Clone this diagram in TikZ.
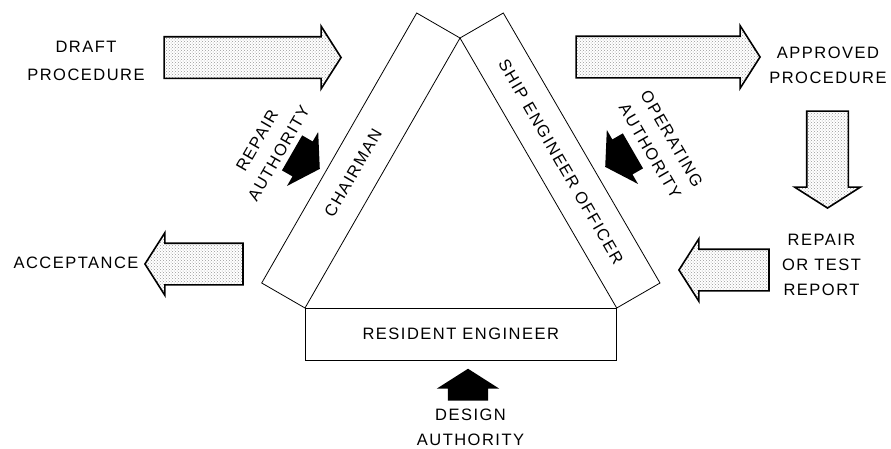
\documentclass[tikz,border=0pt]{standalone}
\usepackage{fontspec}
\setmainfont{Liberation Sans}[LetterSpace=9]
\usetikzlibrary{shapes.arrows,patterns}

\begin{document}
\begin{tikzpicture}[x=1pt, y=-1pt,
		lbl/.style={align=center, font=\fontsize{16.5}{25}\selectfont},
		slab/.style={draw, line width=0.8pt},
		grayarrow/.style={draw, single arrow, anchor=tip, line width=1.6pt, pattern=crosshatch dots, pattern color=gray!80, single arrow head extend=10.5pt, single arrow tip angle=115, inner xsep=0pt, inner ysep=20pt},
		blackarrow/.style={single arrow, anchor=tip, fill=black, single arrow head extend=11pt, single arrow tip angle=115, minimum height=32pt, inner xsep=0pt, inner ysep=20pt}]
				\useasboundingbox (0,0) rectangle (891,448);
				\draw[slab] (460,38) -- (416.7,13) -- (261.7,283) -- (305,308) -- cycle;
				\draw[slab] (460,38) -- (503.3,13) -- (660,283) -- (616.7,308) -- cycle;
				\node[slab, lbl, minimum width=311.7pt, minimum height=52pt] (RE)at(460.8, 334) {RESIDENT ENGINEER};
				\node[lbl, rotate=60] (CH)at(353, 173) {CHAIRMAN};
				\node[lbl, rotate=-60] (SEO)at(561, 162) {SHIP ENGINEER OFFICER};
				\node[lbl] (DP)at(86, 61) {DRAFT\\[3pt]PROCEDURE};
				\node[lbl] (AP)at(828, 65) {APPROVED\\PROCEDURE};
				\node[lbl] (RT)at(821.5, 264.5) {REPAIR\\OR TEST\\REPORT};
				\node[lbl] (AC)at(76, 263) {ACCEPTANCE};
				\node[lbl] (DA)at(470.5, 427.5) {DESIGN\\AUTHORITY};
				\node[lbl, rotate=60] (RA)at(268, 147) {REPAIR\\AUTHORITY};
				\node[lbl, rotate=-60] (OA)at(661, 145) {OPERATING\\AUTHORITY};
				\node[grayarrow, minimum height=177pt] (DPA)at(342, 57.5) {};
				\node[grayarrow, minimum height=184pt] (APA)at(761, 57) {};
				\node[grayarrow, minimum height=97pt, rotate=-90, single arrow head extend=12pt] (PRA)at(827.5, 209) {};
				\node[grayarrow, minimum height=90pt, rotate=180] (RTA)at(678, 270) {};
				\node[grayarrow, minimum height=98pt, rotate=180] (ACA)at(144, 264) {};
				\node[blackarrow, rotate=90] (DAA)at(468, 368.5) {};
				\node[blackarrow, rotate=-30] (RAA)at(320, 169) {};
				\node[blackarrow, rotate=210] (OAA)at(605, 167) {};
			\end{tikzpicture}
\end{document}
